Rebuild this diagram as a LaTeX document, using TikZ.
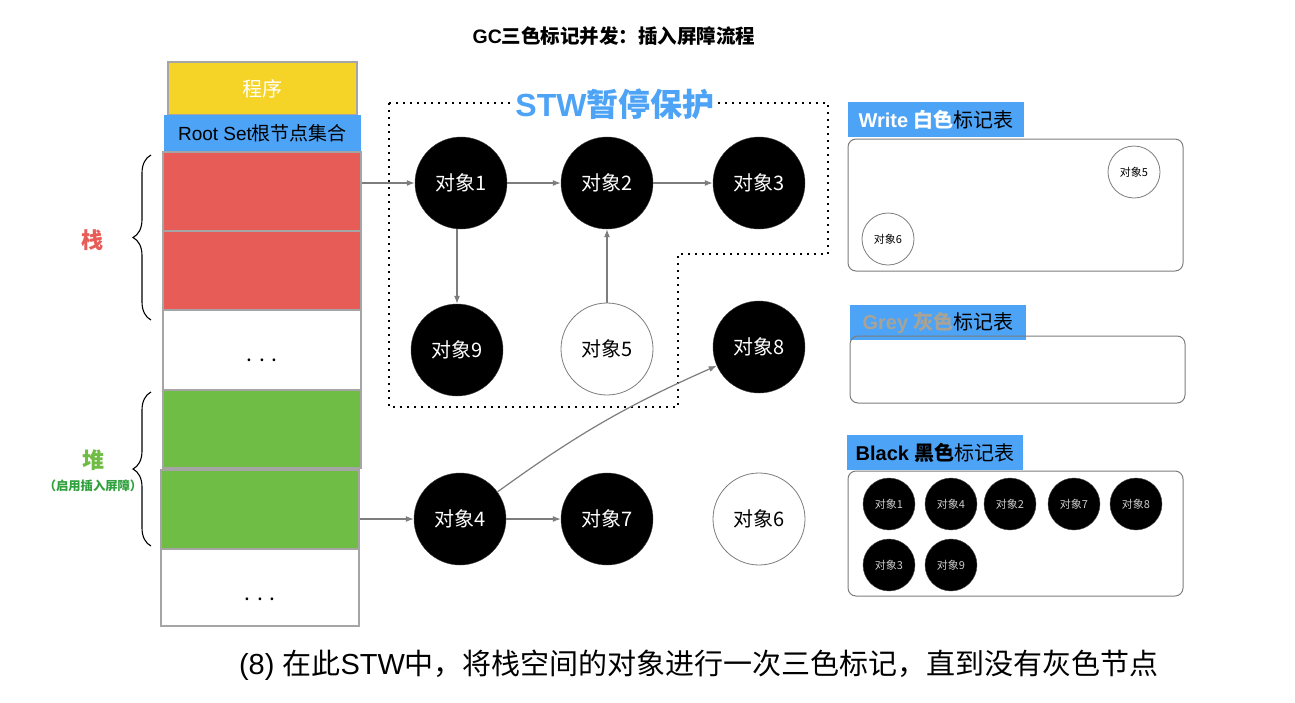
\documentclass[tikz,border=0pt]{standalone}
\usepackage{fontspec}
\setmainfont{Noto Sans CJK SC}
\newfontfamily\lat{Liberation Sans}
\usetikzlibrary{arrows.meta,positioning,decorations.pathreplacing}
\definecolor{ProgYellow}{RGB}{245,211,39}
\definecolor{RootBlue}{RGB}{77,163,245}
\definecolor{StackRed}{RGB}{232,92,87}
\definecolor{HeapGreen}{RGB}{111,189,68}
\definecolor{HeapNote}{RGB}{46,160,60}
\definecolor{CellGray}{RGB}{165,165,165}
\definecolor{EdgeGray}{RGB}{125,125,125}
\definecolor{GreyTag}{RGB}{168,163,150}
\newcommand{\fsz}[1]{\fontsize{#1}{#1}\selectfont}

\begin{document}
\begin{tikzpicture}[x=1pt,y=-1pt,
 cell/.style={draw=CellGray,line width=1.2pt,minimum width=198pt,inner sep=0pt},
 obj/.style={circle,minimum size=92pt,inner sep=0pt,fill=black,draw=black!75,text=white,font=\fsz{20}},
 wobj/.style={circle,minimum size=92pt,inner sep=0pt,fill=white,draw=EdgeGray,line width=.8pt,font=\fsz{20}},
 mini/.style={circle,minimum size=52pt,inner sep=0pt,fill=black,draw=black!70,text=black!20,font=\fsz{11}},
 wmini/.style={circle,minimum size=52pt,inner sep=0pt,fill=white,draw=EdgeGray,line width=.8pt,font=\fsz{11}},
 tbl/.style={draw=EdgeGray,line width=1pt,rounded corners=8pt},
 tag/.style={fill=RootBlue,anchor=north west,inner sep=0pt,minimum width=176pt,minimum height=35pt,font=\fsz{20}},
 link/.style={EdgeGray,line width=1.2pt,-{Latex[length=8pt,width=6pt]}},
 brc/.style={decorate,decoration={brace,amplitude=18pt},line width=1.1pt}]
\fill[white] (0,0) rectangle (1295,702);\useasboundingbox (0,0) rectangle (1295,702);
\node[font=\fsz{19.5}\bfseries] (title) at (614,36) {{\lat GC}三色标记并发：插入屏障流程};
% left column: program, roots, stack and heap
\node[cell,fill=ProgYellow,minimum width=189pt,minimum height=53pt,text=white,font=\fsz{20}] (prog) at (262.5,88.5) {程序};
\node[fill=RootBlue,minimum width=197pt,minimum height=37pt,inner sep=0pt,font=\fsz{19}] (root) at (262.5,133.5) {{\lat Root Set}根节点集合};
\node[cell,fill=StackRed,minimum height=79pt] (r1) at (262,191.5) {};
\node[cell,fill=StackRed,minimum height=79pt] (r2) at (262,270.5) {};
\node[cell,fill=white,minimum height=80pt] (w1) at (262,350) {};
\node[font=\fsz{21}] (d1) at (262,360) {.\,\,.\,\,.};
\node[cell,fill=HeapGreen,minimum height=78pt] (g1) at (262,429) {};
\node[cell,fill=HeapGreen,minimum height=79pt] (g2) at (260,509.5) {};
\node[cell,fill=white,minimum height=77pt] (w2) at (260,587.5) {};
\node[font=\fsz{21}] (d2) at (260,599) {.\,\,.\,\,.};
\draw[brc] (151,320)--(151,155);\draw[brc] (151,546)--(151,392);
\node[text=StackRed,font=\fsz{22}\bfseries] (stk) at (92,240) {栈};
\node[text=HeapGreen,font=\fsz{22}\bfseries] (heap) at (93,460) {堆};
\node[text=HeapNote,font=\fsz{12.3}\bfseries] (note) at (93,486) {（启用插入屏障）};
% STW region
\draw[line width=2pt,dash pattern=on 2pt off 5pt] (389,103)--(828,103)--(828,254)--(678,254)--(678,407)--(389,407)--cycle;
\node[fill=white,text=RootBlue,font=\fsz{32}\bfseries,inner sep=1pt] (stw) at (615,104) {{\lat STW}暂停保护};
% objects
\node[obj] (o1) at (461,183) {对象1};
\node[obj] (o2) at (607,183) {对象2};
\node[obj] (o3) at (759,183) {对象3};
\node[obj] (o9) at (457,350) {对象9};
\node[wobj] (o5) at (607,349) {对象5};
\node[obj] (o8) at (759,347) {对象8};
\node[obj] (o4) at (460,519) {对象4};
\node[obj] (o7) at (607,519) {对象7};
\node[wobj] (o6) at (759,519) {对象6};
\draw[link] (r1.east |- o1)--(o1);\draw[link] (g2.east |- o4)--(o4);
\draw[link] (o1)--(o2);\draw[link] (o2)--(o3);\draw[link] (o9 |- o1.south)--(o9);\draw[link] (o5)--(o2);
\draw[link] (o4)--(o7);\draw[link] (o4) to[bend left=6] (o8);
% colour tables
\node[tag] (wtag) at (848,102) {{\color{white}\bfseries\lat Write }{\color{white}\bfseries 白色}标记表};
\draw[tbl] (848,139) rectangle (1183,271);
\node[wmini] (t5) at (1134,172) {对象5};\node[wmini] (t6) at (888,239) {对象6};
\node[tag] (gtag) at (850,305) {{\color{GreyTag}\bfseries\lat Grey }{\color{GreyTag}\bfseries 灰色}标记表};
\draw[tbl] (850,336) rectangle (1185,403);
\node[tag] (btag) at (847,435) {{\bfseries\lat Black }{\bfseries 黑色}标记表};
\draw[tbl] (848,471) rectangle (1183,596);
\foreach \n/\x/\y in {1/889/504,4/951/504,2/1010/504,7/1074/504,8/1136/504,3/889/565,9/951/565}
  \node[mini] (b\n) at (\x,\y) {对象\n};
\node[font=\fsz{29}] (cap) at (699,665) {{\lat (8) }在此{\lat STW}中，将栈空间的对象进行一次三色标记，直到没有灰色节点};
\end{tikzpicture}
\end{document}
